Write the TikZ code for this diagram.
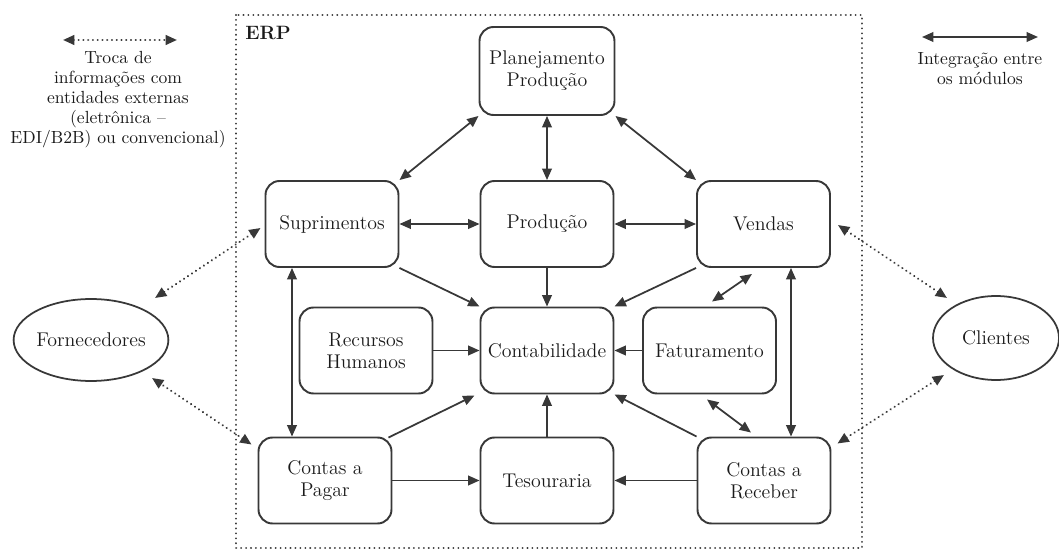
\documentclass[tikz,border=0pt]{standalone}
\usepackage{amsmath}
\usepackage{xcolor}
\usepackage{tikz}
\usetikzlibrary{arrows.meta,shapes.geometric}

\definecolor{traco}{HTML}{383838}
\definecolor{texto}{HTML}{1A1A1A}

\tikzset{
  modulo/.style={draw=traco, line width=1.1pt, rounded corners=0.28cm,
    minimum width=2.66cm, minimum height=1.72cm, inner sep=2pt,
    align=center, text=texto, font=\fontsize{11.3}{12.6}\selectfont},
  entidade/.style={ellipse, draw=traco, line width=1pt, inner sep=0pt,
    text=texto, font=\fontsize{11.3}{12.6}\selectfont},
  legenda/.style={align=center, text=texto, font=\fontsize{10}{11.4}\selectfont},
  integra/.style={<->, draw=traco, line width=1pt},
  fluxo/.style={->, draw=traco, line width=1pt},
  troca/.style={<->, draw=traco, line width=1.3pt, line cap=round,
    dash pattern=on 0.01pt off 2.7pt},
  moldura/.style={draw=traco, line width=1.2pt, line cap=round,
    dash pattern=on 0.01pt off 2.8pt}
}

\begin{document}
\begin{tikzpicture}[x=0.02cm, y=-0.02cm, >={Triangle[length=6.5pt,width=5.5pt]}]
            \useasboundingbox (0,0) rectangle (1059,550);
            \draw [moldura] (236,15) rectangle (862,548);
            \node [text=texto, font=\bfseries\fontsize{11}{13}\selectfont] (erp) at (268,33) {ERP};

            \node [modulo, minimum width=2.7cm, minimum height=1.76cm] (planej) at (547,71) {Planejamento\\Produção};
            \node [modulo] (suprim) at (332,224) {Suprimentos};
            \node [modulo] (producao) at (547,224) {Produção};
            \node [modulo] (vendas) at (763.5,224) {Vendas};
            \node [modulo] (rh) at (366,350.5) {Recursos\\Humanos};
            \node [modulo] (contab) at (547,350.5) {Contabilidade};
            \node [modulo] (fatur) at (709.5,350.5) {Faturamento};
            \node [modulo] (pagar) at (325,480.5) {Contas a\\Pagar};
            \node [modulo] (tesour) at (547,480.5) {Tesouraria};
            \node [modulo] (receber) at (764,480.5) {Contas a\\Receber};
            \node [entidade, minimum width=2.66cm, minimum height=1.64cm] (fornec) at (91,340) {Fornecedores};
            \node [entidade, minimum width=2.52cm, minimum height=1.68cm] (clientes) at (996,338) {Clientes};

            \coordinate (trocaA) at (63,40);
            \coordinate (trocaB) at (177,40);
            \draw [troca] (trocaA) -- (trocaB);
            \node [legenda] (trocatxt) at (118,100) {Troca de\\informações com\\entidades externas\\(eletrônica –\\EDI/B2B) ou convencional)};
            \coordinate (integraA) at (922,37);
            \coordinate (integraB) at (1038,37);
            \draw [integra] (integraA) -- (integraB);
            \node [legenda] (integratxt) at (980,69) {Integração entre\\os módulos};

            \draw [integra] (planej.south west) -- (suprim.north east);
            \draw [integra] (planej.south) -- (producao.north);
            \draw [integra] (planej.south east) -- (vendas.north west);
            \draw [integra] (suprim.east) -- (producao.west);
            \draw [integra] (producao.east) -- (vendas.west);
            \draw [integra] ([shift={(-40,0)}]suprim.south) -- ([shift={(-33,0)}]pagar.north);
            \draw [integra] ([shift={(27.5,0)}]vendas.south) -- ([shift={(27,0)}]receber.north);
            \draw [integra] ([shift={(-11.5,6)}]vendas.south) -- ([shift={(2.5,-5)}]fatur.north);
            \draw [integra] ([shift={(-2.5,5)}]fatur.south) -- ([shift={(-13,-4)}]receber.north);

            \draw [fluxo] (suprim.south east) -- (contab.north west);
            \draw [fluxo] (producao.south) -- (contab.north);
            \draw [fluxo] (vendas.south west) -- (contab.north east);
            \draw [fluxo] (rh.east) -- (contab.west);
            \draw [fluxo] (fatur.west) -- (contab.east);
            \draw [fluxo] ([shift={(-4,1)}]pagar.north east) -- ([shift={(-5,1)}]contab.south west);
            \draw [fluxo] (tesour.north) -- (contab.south);
            \draw [fluxo] (receber.north west) -- (contab.south east);
            \draw [fluxo] (pagar.east) -- (tesour.west);
            \draw [fluxo] (receber.west) -- (tesour.east);

            \draw [troca] ([shift={(-4,4)}]suprim.west) -- ([shift={(64,-42)}]fornec.center);
            \draw [troca] ([shift={(-6,8)}]pagar.north west) -- ([shift={(61,38)}]fornec.center);
            \draw [troca] ([shift={(7,1)}]vendas.east) -- ([shift={(-49,-40)}]clientes.center);
            \draw [troca] ([shift={(6,7)}]receber.north east) -- ([shift={(-52,37)}]clientes.center);
        \end{tikzpicture}
\end{document}
